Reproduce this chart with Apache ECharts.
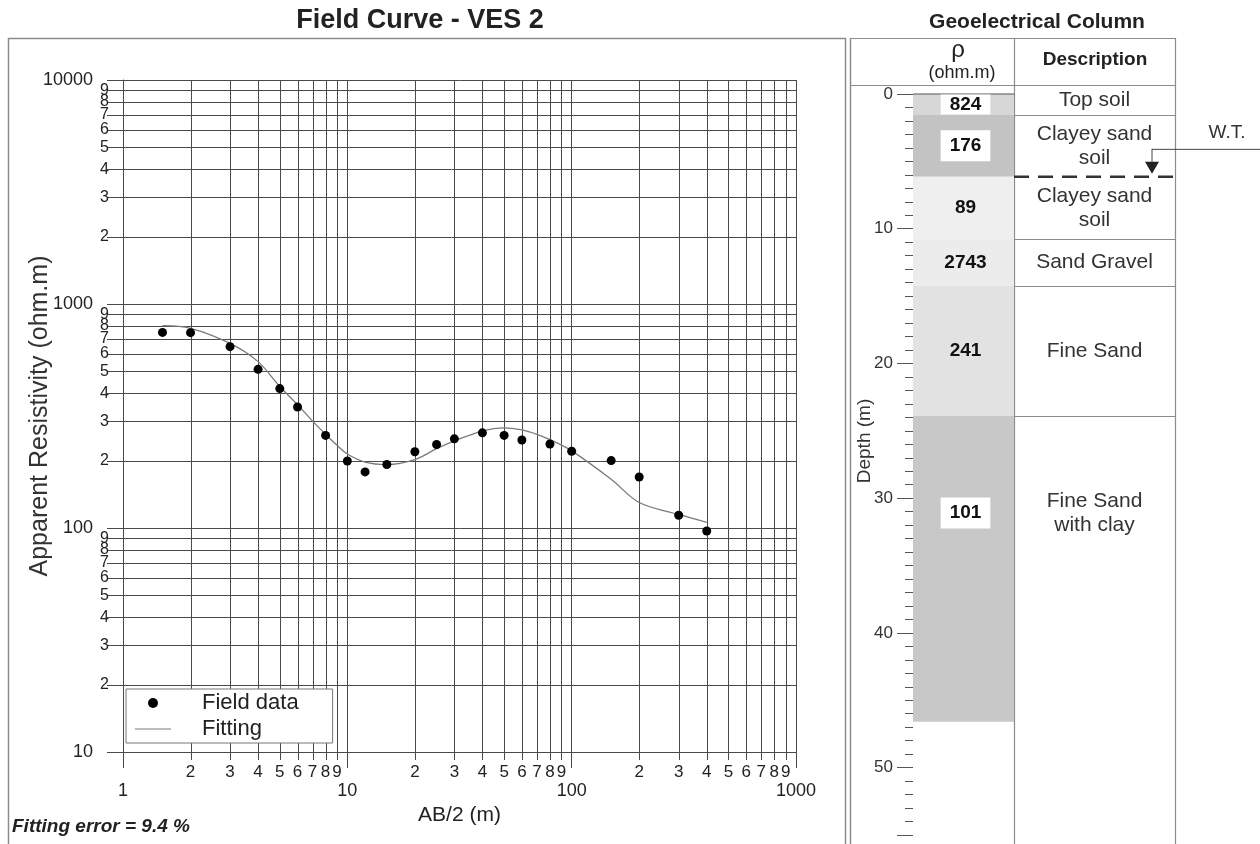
<!DOCTYPE html>
<html>
<head>
<meta charset="utf-8">
<script src="https://cdn.jsdelivr.net/npm/echarts@6/dist/echarts.min.js"></script>
<style>
html,body{margin:0;padding:0;background:#fff;}
#chart{width:1260px;height:844px;}
</style>
</head>
<body>
<div id="chart"></div>
<script>
// ---------- data ----------
const abHalfField = [1.5, 2, 3, 4, 5, 6, 8, 10, 12, 15, 20, 25, 30, 40, 50, 60, 80, 100, 150, 200, 300, 400];
const rhoField    = [747, 745, 645, 511, 419, 347, 259, 199, 178, 192, 219, 236, 250, 266, 259, 247, 237, 220, 200, 169, 114, 97];

const abHalfFit = [1.5, 2, 3, 4, 5, 6, 7, 8, 9, 10, 12, 15, 20, 25, 30, 40, 50, 60, 70, 80, 100, 150, 200, 300, 400];
const rhoFit    = [800, 779, 667, 553, 428, 355, 300, 262, 234, 214, 197, 192, 202, 226, 245, 271, 280, 274, 262, 248, 221, 165, 130, 115, 106];

const minorDigits = [2, 3, 4, 5, 6, 7, 8, 9];
const xDecades = [1, 10, 100];
const yDecades = [10, 100, 1000];

const layerBottomDepth = [1.55, 6.15, 10.75, 14.25, 23.9, 46.6];
const layerResistivity = [824, 176, 89, 2743, 241, 101];
const layerDescription = ['Top soil', 'Clayey sand\nsoil', 'Clayey sand\nsoil', 'Sand Gravel', 'Fine Sand', 'Fine Sand\nwith clay'];
const waterTableDepth = 6.15;
const fittingError = 9.4;

// ---------- styles ----------
const layerFill = ['#d7d7d7', '#c3c3c3', '#efefef', '#ececec', '#e2e2e2', '#c8c8c8'];
const layerBoxed = [true, true, false, false, false, true];
const FONT = "'Liberation Sans', Arial, Helvetica, sans-serif";
const GRID_COLOR = '#4a4a4a';
const TXT = '#222';
const DESC_W = 161;

const xMinor = [], xMinorLbl = [];
xDecades.forEach(d => minorDigits.forEach(m => { xMinor.push(m * d); xMinorLbl.push(String(m)); }));
const yMinor = [], yMinorLbl = [];
yDecades.forEach(d => minorDigits.forEach(m => { yMinor.push(m * d); yMinorLbl.push(String(m)); }));

const X_MIN = 1, X_MAX = 1000, Y_MIN = 10, Y_MAX = 10000;

const chart = echarts.init(document.getElementById('chart'));

const option = {
  backgroundColor: '#fff',
  animation: false,
  textStyle: { fontFamily: FONT },
  grid: [
    { left: 123, top: 80, width: 673, height: 672 },
    { left: 913, top: 94, width: 101, height: 741 }
  ],
  legend: {
    data: [
      { name: 'Field data', icon: 'circle' },
      { name: 'Fitting', icon: 'path://M0,0M36,10M0,4.6L36,4.6L36,5.6L0,5.6Z' }
    ],
    orient: 'vertical',
    left: 126, top: 689,
    backgroundColor: '#fff',
    borderColor: '#777', borderWidth: 1, borderRadius: 0,
    padding: [2, 34, 2, 9],
    itemWidth: 36, itemHeight: 10, itemGap: 2,
    selectedMode: false,
    textStyle: { fontFamily: FONT, fontSize: 22, color: TXT, padding: [0, 0, 0, 26], lineHeight: 24 }
  },
  xAxis: [
    {
      type: 'log', logBase: 10, min: X_MIN, max: X_MAX, gridIndex: 0,
      name: 'AB/2 (m)', nameLocation: 'middle', nameGap: 53, nameMoveOverlap: false,
      nameTextStyle: { fontFamily: FONT, fontSize: 21, color: TXT },
      axisLine: { show: true, lineStyle: { color: GRID_COLOR, width: 1 } },
      axisTick: { show: true, length: 16, lineStyle: { color: GRID_COLOR, width: 1 } },
      axisLabel: { margin: 30, fontSize: 18, color: TXT, fontFamily: FONT, formatter: v => String(Math.round(v)) },
      splitLine: { show: true, lineStyle: { color: GRID_COLOR, width: 1 } }
    },
    { type: 'value', gridIndex: 1, min: 0, max: 1, show: false }
  ],
  yAxis: [
    {
      type: 'log', logBase: 10, min: Y_MIN, max: Y_MAX, gridIndex: 0,
      name: 'Apparent Resistivity (ohm.m)', nameLocation: 'middle', nameGap: 70, nameMoveOverlap: false,
      nameTextStyle: { fontFamily: FONT, fontSize: 25, color: '#333' },
      axisLine: { show: true, lineStyle: { color: GRID_COLOR, width: 1 } },
      axisTick: { show: true, length: 16, lineStyle: { color: GRID_COLOR, width: 1 } },
      axisLabel: { margin: 30, fontSize: 18, color: TXT, fontFamily: FONT, formatter: v => String(Math.round(v)) },
      splitLine: { show: true, lineStyle: { color: GRID_COLOR, width: 1 } }
    },
    {
      type: 'value', gridIndex: 1, position: 'left', inverse: true, min: 0, max: 55, interval: 10,
      axisLine: { show: false },
      axisTick: { show: true, length: 16, lineStyle: { color: '#555', width: 1 } },
      axisLabel: { margin: 20, fontSize: 17, color: '#333', fontFamily: FONT,
                   formatter: v => (v % 10 === 0 ? String(v) : '') },
      splitLine: { show: false }
    },
    {
      type: 'value', gridIndex: 1, position: 'left', offset: 0, inverse: true, min: 0, max: 55, interval: 1,
      axisLine: { show: false },
      axisTick: { show: true, length: 8, lineStyle: { color: '#555', width: 1 } },
      axisLabel: { show: false },
      splitLine: { show: false }
    }
  ],
  series: [
    // minor vertical grid lines + labels
    {
      type: 'custom', name: 'xMinor', xAxisIndex: 0, yAxisIndex: 0, silent: true, clip: false, z: 1,
      data: xMinor.map(v => [v, Y_MIN]),
      renderItem: function (params, api) {
        const v = api.value(0);
        const b = api.coord([v, Y_MIN]);
        const t = api.coord([v, Y_MAX]);
        const x = Math.round(b[0]) + 0.5;
        return { type: 'group', children: [
          { type: 'line', shape: { x1: x, y1: t[1], x2: x, y2: b[1] + 8 }, style: { stroke: GRID_COLOR, lineWidth: 1 } },
          { type: 'text', x: b[0], y: b[1] + 20, style: { text: xMinorLbl[params.dataIndex], fill: TXT, font: '17px ' + FONT, align: 'center', verticalAlign: 'middle' } }
        ] };
      }
    },
    // minor horizontal grid lines + labels
    {
      type: 'custom', name: 'yMinor', xAxisIndex: 0, yAxisIndex: 0, silent: true, clip: false, z: 1,
      data: yMinor.map(v => [X_MIN, v]),
      renderItem: function (params, api) {
        const v = api.value(1);
        const l = api.coord([X_MIN, v]);
        const r = api.coord([X_MAX, v]);
        const y = Math.round(l[1]) + 0.5;
        return { type: 'group', children: [
          { type: 'line', shape: { x1: l[0] - 16, y1: y, x2: r[0], y2: y }, style: { stroke: GRID_COLOR, lineWidth: 1 } },
          { type: 'text', x: l[0] - 14, y: l[1], style: { text: yMinorLbl[params.dataIndex], fill: TXT, font: '16px ' + FONT, align: 'right', verticalAlign: 'middle' } }
        ] };
      }
    },
    {
      type: 'line', name: 'Fitting', xAxisIndex: 0, yAxisIndex: 0, z: 3,
      data: abHalfFit.map((x, i) => [x, rhoFit[i]]),
      smooth: 0.35, symbol: 'none', showSymbol: false,
      lineStyle: { color: '#7a7a7a', width: 1.3 }, itemStyle: { color: '#7a7a7a' }
    },
    {
      type: 'scatter', name: 'Field data', xAxisIndex: 0, yAxisIndex: 0, z: 4,
      data: abHalfField.map((x, i) => [x, rhoField[i]]),
      symbol: 'circle', symbolSize: 9, itemStyle: { color: '#000', opacity: 1 }
    },
    // geoelectrical layers
    {
      type: 'custom', name: 'layers', xAxisIndex: 1, yAxisIndex: 1, silent: true, clip: false, z: 2,
      data: layerBottomDepth.map(d => [0, d]),
      renderItem: function (params, api) {
        const i = params.dataIndex;
        const top = i === 0 ? 0 : layerBottomDepth[i - 1];
        const bot = layerBottomDepth[i];
        const p0 = api.coord([0, top]);
        const p1 = api.coord([1, bot]);
        const xl = p0[0], xr = p1[0], yt = p0[1], yb = p1[1];
        const labelDepth = top + Math.min((bot - top) / 2, 7.2);
        const ly = api.coord([0, labelDepth])[1];
        const children = [
          { type: 'rect', shape: { x: xl, y: yt, width: xr - xl, height: yb - yt }, style: { fill: layerFill[i] } }
        ];
        if (i === 0) {
          children.push({ type: 'line', shape: { x1: xl, y1: yt, x2: xr, y2: yt }, style: { stroke: '#555', lineWidth: 1.2 } });
        }
        if (i < layerBottomDepth.length - 1 && Math.abs(bot - waterTableDepth) > 1e-9) {
          const yy = Math.round(yb) + 0.5;
          children.push({ type: 'line', shape: { x1: xl, y1: yy, x2: xr + DESC_W, y2: yy }, style: { stroke: '#8a8a8a', lineWidth: 1 } });
        }
        const hPx = yb - yt;
        const padV = Math.max(0, Math.min(6, (hPx - 20) / 2));
        children.push({
          type: 'text', x: (xl + xr) / 2 + 2, y: ly,
          style: {
            text: String(layerResistivity[i]), fill: '#111', font: 'bold 19px ' + FONT,
            align: 'center', verticalAlign: 'middle',
            backgroundColor: layerBoxed[i] ? '#fff' : null,
            padding: layerBoxed[i] ? [padV, 9, padV, 9] : 0
          }
        });
        children.push({
          type: 'text', x: xr + DESC_W / 2, y: ly - (i === 0 ? 4 : 0),
          style: { text: layerDescription[i], fill: '#333', font: '21px ' + FONT, align: 'center', verticalAlign: 'middle', lineHeight: 24 }
        });
        return { type: 'group', children: children };
      }
    },
    // water table marker
    {
      type: 'custom', name: 'waterTable', xAxisIndex: 1, yAxisIndex: 1, silent: true, clip: false, z: 3,
      data: [[1, waterTableDepth]],
      renderItem: function (params, api) {
        const p = api.coord([1, api.value(1)]);
        const x0 = p[0], y = p[1];
        const x1 = x0 + DESC_W;
        const tx = x1 - 23;
        return { type: 'group', children: [
          { type: 'line', shape: { x1: x0, y1: y, x2: x1, y2: y }, style: { stroke: '#333', lineWidth: 2.5, lineDash: [15, 9] } },
          { type: 'polygon', shape: { points: [[tx - 7, y - 15], [tx + 7, y - 15], [tx, y - 3]] }, style: { fill: '#222' } },
          { type: 'line', shape: { x1: tx, y1: y - 15, x2: tx, y2: y - 28 }, style: { stroke: '#444', lineWidth: 1 } },
          { type: 'line', shape: { x1: tx, y1: y - 27.5, x2: 1260, y2: y - 27.5 }, style: { stroke: '#444', lineWidth: 1 } },
          { type: 'text', x: tx + 75, y: y - 44, style: { text: 'W.T.', fill: '#333', font: '19px ' + FONT, align: 'center', verticalAlign: 'middle' } }
        ] };
      }
    }
  ],
  graphic: [
    { type: 'rect', silent: true, z: -1, shape: { x: 8.5, y: 38.5, width: 837, height: 820 }, style: { fill: null, stroke: '#8c8c8c', lineWidth: 1.5 } },
    { type: 'line', silent: true, shape: { x1: 850.5, y1: 38, x2: 850.5, y2: 844 }, style: { stroke: '#8c8c8c', lineWidth: 1.5 } },
    { type: 'line', silent: true, shape: { x1: 1014.5, y1: 38, x2: 1014.5, y2: 844 }, style: { stroke: '#8c8c8c', lineWidth: 1.2 } },
    { type: 'line', silent: true, shape: { x1: 1175.5, y1: 38, x2: 1175.5, y2: 844 }, style: { stroke: '#8c8c8c', lineWidth: 1.2 } },
    { type: 'line', silent: true, shape: { x1: 850, y1: 38.5, x2: 1176, y2: 38.5 }, style: { stroke: '#8c8c8c', lineWidth: 1.2 } },
    { type: 'line', silent: true, shape: { x1: 850, y1: 85.5, x2: 1176, y2: 85.5 }, style: { stroke: '#8c8c8c', lineWidth: 1.2 } },
    { type: 'text', x: 420, y: 21, style: { text: 'Field Curve - VES 2', font: 'bold 27px ' + FONT, fill: '#222', align: 'center', verticalAlign: 'middle' } },
    { type: 'text', x: 1037, y: 22, style: { text: 'Geoelectrical Column', font: 'bold 21px ' + FONT, fill: '#222', align: 'center', verticalAlign: 'middle' } },
    { type: 'text', x: 958, y: 50, style: { text: 'ρ', font: '24px ' + FONT, fill: '#222', align: 'center', verticalAlign: 'middle' } },
    { type: 'text', x: 962, y: 73, style: { text: '(ohm.m)', font: '18px ' + FONT, fill: '#222', align: 'center', verticalAlign: 'middle' } },
    { type: 'text', x: 1095, y: 60, style: { text: 'Description', font: 'bold 19px ' + FONT, fill: '#222', align: 'center', verticalAlign: 'middle' } },
    { type: 'text', x: 865, y: 441, rotation: Math.PI / 2, style: { text: 'Depth (m)', font: '19px ' + FONT, fill: '#333', align: 'center', verticalAlign: 'middle' } },
    { type: 'text', x: 12, y: 827, style: { text: 'Fitting error = ' + fittingError + ' %', font: 'italic bold 19px ' + FONT, fill: '#222', align: 'left', verticalAlign: 'middle' } }
  ]
};

chart.setOption(option);
</script>
</body>
</html>
